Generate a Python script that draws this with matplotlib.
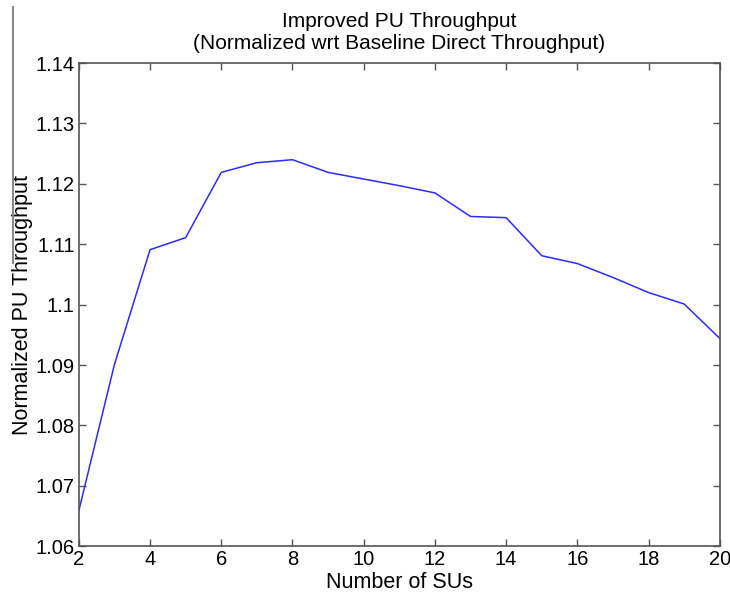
import numpy as np
import matplotlib.pyplot as plt
from matplotlib.ticker import FuncFormatter
from matplotlib.lines import Line2D

# ── data ──────────────────────────────────────────────────────
num_sus = [2, 3, 4, 5, 6, 7, 8, 9, 10, 11, 12, 13, 14, 15, 16, 17, 18, 19, 20]
throughput = [1.0659, 1.0901, 1.1091, 1.1111, 1.1219, 1.1235, 1.1240, 1.1219,
              1.1208, 1.1197, 1.1185, 1.1146, 1.1144, 1.1081, 1.1068, 1.1045,
              1.1020, 1.1001, 1.0944]
x_ticks = [2, 4, 6, 8, 10, 12, 14, 16, 18, 20]
y_ticks = [1.06, 1.07, 1.08, 1.09, 1.10, 1.11, 1.12, 1.13, 1.14]

plt.rcParams['font.family'] = ['Liberation Sans', 'DejaVu Sans']

fig = plt.figure(figsize=(7.30, 5.95), dpi=100)
ax = fig.add_axes([0.108, 0.082, 0.878, 0.812])

ax.plot(num_sus, throughput, color='#2b2bff', lw=1.1)

ax.set_xlim(2, 20)
ax.set_ylim(1.06, 1.14)
ax.set_xticks(x_ticks)
ax.set_yticks(y_ticks)
ax.yaxis.set_major_formatter(FuncFormatter(lambda v, p: f'{v:g}'))
ax.tick_params(direction='in', length=5, width=1, color='#555555',
               top=True, right=True, labelsize=14.5, pad=3)
for s in ax.spines.values():
    s.set_color('#555555')
    s.set_linewidth(1.2)

ax.set_xlabel('Number of SUs', fontsize=15.5, labelpad=2)
ax.set_ylabel('Normalized PU Throughput', fontsize=15.5, labelpad=2)
ax.set_title('Improved PU Throughput\n(Normalized wrt Baseline Direct Throughput)',
             fontsize=15, pad=10, linespacing=1.2)

# stray crop edge line at left of the original image
fig.add_artist(Line2D([13 / 730, 13 / 730], [1 - 7 / 595, 1 - 263 / 595],
                      transform=fig.transFigure, color='#888888', lw=1.5))

fig.savefig('out.png', dpi=100)
